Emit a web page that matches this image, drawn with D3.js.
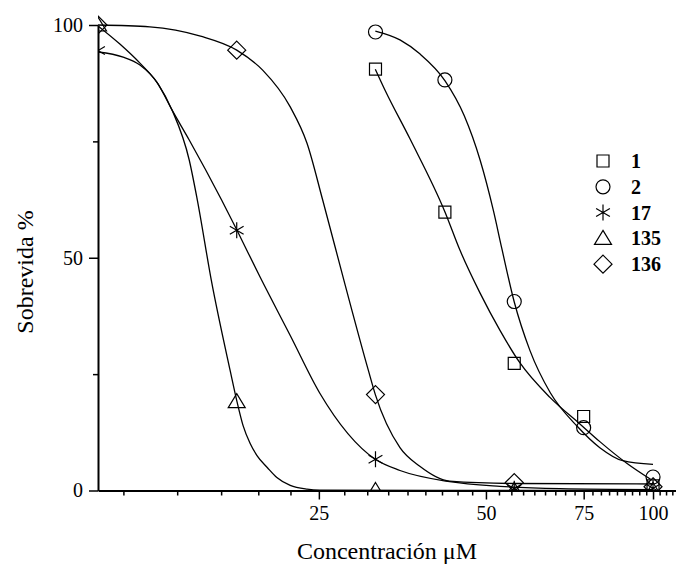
<!DOCTYPE html>
<html>
<head>
<meta charset="utf-8">
<script src="https://cdn.jsdelivr.net/npm/d3@7"></script>
<style>
  body { margin: 0; background: #fff; }
  text { font-family: "Liberation Serif", "Times New Roman", serif; fill: #000; }
</style>
</head>
<body>
<div id="chart"></div>
<script>
// concentrations (quarter-log dilutions)
const concA = [10, 17.78, 31.62, 56.23, 100]
const concB = [31.62, 42.17, 56.23, 74.99, 100]

const seriesNames = ['1', '2', '17', '135', '136']
const symbolsOf = ['square', 'circle', 'star', 'triangle', 'diamond']

// measured survival (%)
const surv1 = [90.5, 59.8, 27.3, 15.9, 1.0]
const surv2 = [98.5, 88.2, 40.6, 13.5, 2.9]
const surv17 = [94.5, 55.9, 6.7, 0.4, 0.5]
const surv135 = [100, 19.1, 0, 0, 0]
const surv136 = [100, 94.6, 20.6, 1.7, 0.8]

// fitted curves as [conc, survival]
const fit1 = [[31.6, 90.5], [32.9, 86], [36.5, 75.5], [42.2, 59.8], [44.9, 51.6], [48.8, 42.4], [53, 34.4],
  [57.5, 27.5], [65.2, 20], [74, 14.2], [80.2, 10.5], [89.8, 5.8], [99, 2.4]]
const fit2 = [[31.6, 98.7], [35, 96.8], [38, 93.8], [42.2, 88], [45.7, 80.5], [48.8, 71], [51.6, 60],
  [53.4, 52], [56.2, 40.6], [60, 30.1], [65.3, 21], [73, 13.8], [80.2, 9.2], [88.2, 6.4], [100, 5.6]]
const fit17 = [[10, 94.2], [11.1, 93.1], [11.9, 91.4], [12.8, 87.5], [13.6, 81.7], [14.6, 75.3], [16.7, 62.4],
  [17.8, 55.9], [19.6, 45.8], [22.2, 33.3], [25.1, 20.9], [31.6, 6.7], [35, 4.3], [43, 1.9], [53, 0.9],
  [68, 0.4], [100, 0.2]]
const fit135 = [[10, 99.8], [10.95, 95.9], [11.9, 91.8], [12.8, 87.5], [13.6, 81.7], [14.6, 71], [15.1, 62.4],
  [16, 45.2], [17.3, 25.8], [17.8, 19.1], [18.25, 14], [18.8, 10.1], [19.34, 7.5], [20.2, 4.9], [21, 2.8],
  [22.2, 1.1], [23.8, 0.3], [25.1, 0.1], [40, 0], [100, 0]]
const fit136 = [[10, 100], [12.4, 99.6], [15.3, 97.6], [17.78, 94.6], [19.8, 90.3], [22.2, 82.4], [23.8, 74.6],
  [25.4, 62.4], [27.9, 44], [30.7, 25.8], [31.6, 20.6], [35, 9.2], [38, 5.2], [43, 2.0], [56.2, 1.5], [100, 1.4]]

const xMajor = [25, 50, 75, 100]
const yMajor = [0, 50, 100]
const yMinor = [25, 75]

const series = [
  { name: '1', sym: 'square', x: concB, y: surv1, fit: fit1 },
  { name: '2', sym: 'circle', x: concB, y: surv2, fit: fit2 },
  { name: '17', sym: 'star', x: concA, y: surv17, fit: fit17 },
  { name: '135', sym: 'triangle', x: concA, y: surv135, fit: fit135 },
  { name: '136', sym: 'diamond', x: concA, y: surv136, fit: fit136 }
]

const W = 676, H = 569

const x = d3.scaleLog().domain([10, 110]).range([98, 676])
const y = d3.scaleLinear().domain([0, 100]).range([490.5, 25])

const svg = d3.select('#chart').append('svg')
  .attr('width', W).attr('height', H)

svg.append('defs').append('clipPath').attr('id', 'plot')
  .append('rect').attr('x', 98).attr('y', 0).attr('width', W - 98).attr('height', 491)

// marker shapes
const marker = (sym) => {
  switch (sym) {
    case 'square': return 'M-6,-6H6V6H-6Z'
    case 'circle': return 'M7,0A7,7 0 1,1 -7,0A7,7 0 1,1 7,0Z'
    case 'diamond': return 'M0,-9L9,0L0,9L-9,0Z'
    case 'triangle': return 'M0,-8L8.5,6H-8.5Z'
    case 'star': return 'M0,-8V8M-6.9,-4L6.9,4M-6.9,4L6.9,-4'
  }
}

// axes
svg.append('g').attr('transform', `translate(0,${y(0)})`)
  .call(d3.axisBottom(x).tickValues(xMajor).tickFormat(d3.format('d')).tickSize(9).tickSizeOuter(0).tickPadding(6))
const xMinor = d3.range(4, 40).map(k => k * 25 / 9).filter(v => Math.abs(v / 25 - Math.round(v / 25)) > 1e-6)
svg.append('g').attr('transform', `translate(0,${y(0)})`)
  .call(d3.axisBottom(x).tickValues(xMinor).tickFormat('').tickSize(5).tickSizeOuter(0))
  .call(g => g.select('.domain').remove())

svg.append('g').attr('transform', `translate(${x(10)},0)`)
  .call(d3.axisLeft(y).tickValues(yMajor).tickFormat(d3.format('d')).tickSize(9).tickSizeOuter(0).tickPadding(6))
svg.append('g').attr('transform', `translate(${x(10)},0)`)
  .call(d3.axisLeft(y).tickValues(yMinor).tickFormat('').tickSize(5).tickSizeOuter(0))
  .call(g => g.select('.domain').remove())

svg.selectAll('.domain').attr('stroke-width', 2)
svg.selectAll('.tick line').attr('stroke-width', 1.5)
svg.selectAll('.tick text').style('font-size', '20px').style('font-family', '"Liberation Serif", serif')

// axis titles
svg.append('text').attr('x', 387).attr('y', 559).attr('text-anchor', 'middle')
  .style('font-size', '24px').text('Concentración μM')
svg.append('text').attr('transform', 'translate(33,272) rotate(-90)').attr('text-anchor', 'middle')
  .style('font-size', '24px').text('Sobrevida %')

// fitted curves
const line = d3.line().x(d => x(d[0])).y(d => y(d[1])).curve(d3.curveMonotoneX)
const plot = svg.append('g').attr('clip-path', 'url(#plot)')
plot.selectAll('path.fit').data(series).enter().append('path')
  .attr('class', 'fit')
  .attr('d', d => line(d.fit))
  .attr('fill', 'none').attr('stroke', '#000').attr('stroke-width', 1.3)

// measured points
series.forEach(s => {
  plot.selectAll(null).data(s.x.map((c, i) => [c, s.y[i]])).enter().append('path')
    .attr('transform', d => `translate(${x(d[0])},${y(d[1])})`)
    .attr('d', marker(s.sym))
    .attr('fill', 'none').attr('stroke', '#000').attr('stroke-width', 1.2)
})

// legend
const legend = svg.append('g')
series.forEach((s, i) => {
  const ly = 161 + i * 25.8
  legend.append('path').attr('transform', `translate(603,${ly})`)
    .attr('d', marker(s.sym)).attr('fill', 'none').attr('stroke', '#000').attr('stroke-width', 1.2)
  legend.append('text').attr('x', 631).attr('y', ly).attr('dy', '0.35em')
    .style('font-size', '20px').style('font-weight', 'bold').text(s.name)
})
</script>
</body>
</html>
